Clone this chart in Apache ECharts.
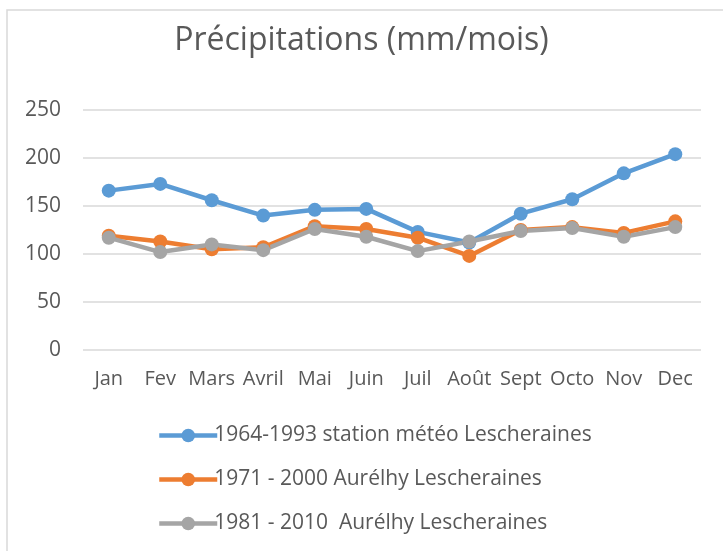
<!DOCTYPE html>
<html>
<head>
<meta charset="utf-8">
<script src="https://cdn.jsdelivr.net/npm/echarts@6/dist/echarts.min.js"></script>
<style>html,body{margin:0;padding:0;background:#fff;}</style>
</head>
<body>
<div id="main" style="width:723px;height:551px;"></div>
<script type="text/javascript">
    // données
    var mois = ['Jan', 'Fev', 'Mars', 'Avril', 'Mai', 'Juin', 'Juil', 'Août', 'Sept', 'Octo', 'Nov', 'Dec'];
    var serieNoms = ['1964-1993 station météo Lescheraines', '1971 - 2000 Aurélhy Lescheraines', '1981 - 2010  Aurélhy Lescheraines'];
    var station6493 = [166, 173, 156, 140, 146, 147, 123, 112, 142, 157, 184, 204];
    var aurelhy7100 = [119, 113, 105, 107, 129, 126, 117, 98, 125, 128, 122, 134];
    var aurelhy8110 = [117, 102, 110, 104, 126, 118, 103, 113, 124, 127, 118, 128];
    var yTicks = [0, 50, 100, 150, 200, 250];

    var couleurs = ['#5b9bd5', '#ed7d31', '#a5a5a5'];
    var police = 'Open Sans';

    var myChart = echarts.init(document.getElementById('main'));

    function serie(nom, data, c) {
        return {
            name: nom,
            type: 'line',
            data: data,
            symbol: 'circle',
            symbolSize: 14,
            itemStyle: {color: c},
            lineStyle: {width: 4.5, color: c},
            emphasis: {disabled: true},
            animation: false
        };
    }

    var option = {
        backgroundColor: '#fff',
        title: {
            text: 'Précipitations (mm/mois)',
            left: 'center',
            top: 20,
            textStyle: {fontFamily: police, fontSize: 32, fontWeight: 'normal', color: '#595959'}
        },
        graphic: [{
            type: 'rect',
            shape: {x: 7, y: 10, width: 740, height: 560},
            style: {fill: 'none', stroke: '#d9d9d9', lineWidth: 1.5},
            silent: true
        }],
        legend: {
            orient: 'vertical',
            left: 152,
            top: 420,
            itemWidth: 58,
            itemHeight: 17,
            itemGap: 23,
            data: serieNoms,
            lineStyle: {width: 4.5},
            textStyle: {fontFamily: police, fontSize: 21, color: '#595959', padding: [0, 0, 0, -8]}
        },
        grid: {left: 83, right: 22, top: 110, bottom: 201, containLabel: false},
        xAxis: {
            type: 'category',
            data: mois,
            boundaryGap: true,
            axisLine: {show: false},
            axisTick: {show: false},
            axisLabel: {fontFamily: police, fontSize: 20, color: '#595959', margin: 19, interval: 0}
        },
        yAxis: {
            type: 'value',
            min: yTicks[0],
            max: yTicks[yTicks.length - 1],
            interval: 50,
            axisLine: {show: false},
            axisTick: {show: false},
            splitLine: {lineStyle: {color: '#d9d9d9', width: 1.5}},
            axisLabel: {fontFamily: police, fontSize: 21, color: '#595959', margin: 22}
        },
        series: [
            serie(serieNoms[0], station6493, couleurs[0]),
            serie(serieNoms[1], aurelhy7100, couleurs[1]),
            serie(serieNoms[2], aurelhy8110, couleurs[2])
        ]
    };
    myChart.setOption(option);
</script>
</body>
</html>
